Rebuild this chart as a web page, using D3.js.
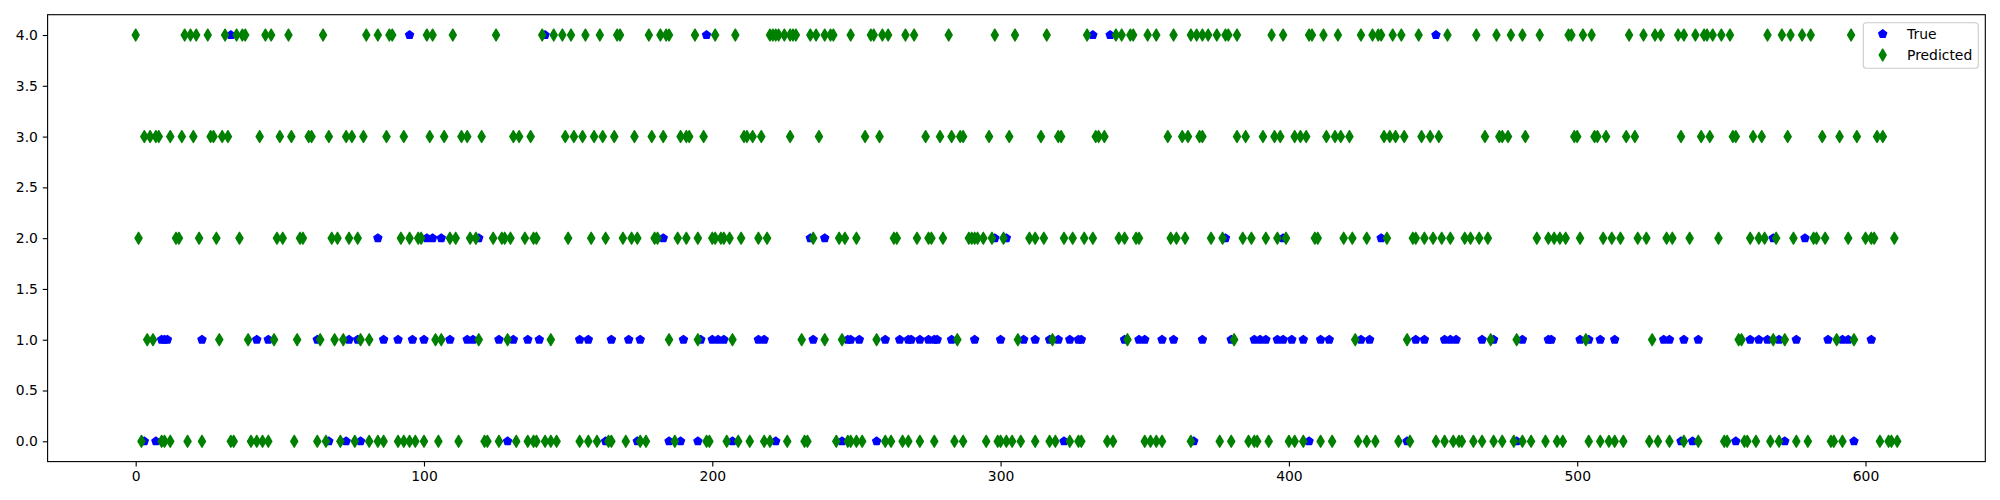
<!DOCTYPE html>
<html><head><meta charset="utf-8">
<script src="https://cdn.jsdelivr.net/npm/d3@7"></script>
<style>
html,body{margin:0;padding:0;background:#fff;}
svg{display:block;font-family:"DejaVu Sans",sans-serif;}
</style></head>
<body><svg id="c" width="2000" height="500"></svg>
<script>
// ---- data (sample index on x, class on y) ----
const xTicks = [0,100,200,300,400,500,600];
const yTicks = [0,0.5,1,1.5,2,2.5,3,3.5,4];
const yTickLabels = ["0.0","0.5","1.0","1.5","2.0","2.5","3.0","3.5","4.0"];
const seriesNames = ["True","Predicted"];
const nSamples = 612;

// Predicted class per sample, grouped by class
const pred0 = [2,9,10,12,18,23,33,34,40,42,44,46,55,63,66,71,76,81,84,86,91,93,95,97,100,105,112,121,122,126,132,136,138,139,142,144,146,154,157,160,164,165,170,175,177,187,198,199,205,209,213,218,220,226,232,233,243,247,248,250,252,260,262,266,268,272,277,284,287,295,299,300,302,304,307,312,317,319,324,327,328,337,339,350,352,354,356,366,376,380,386,388,389,393,400,402,405,411,415,424,427,430,438,442,451,454,457,459,460,464,467,471,474,478,481,484,489,493,495,504,508,511,513,516,525,528,532,537,542,551,552,558,559,562,567,570,576,580,588,589,592,605,608,609,611];
const pred1 = [4,6,29,39,48,56,64,69,72,78,81,104,106,119,129,144,185,195,207,231,239,245,257,285,306,318,344,381,423,441,470,479,503,526,556,557,568,572,590,596];
const pred2 = [1,14,15,22,28,36,49,51,57,58,68,70,74,77,92,95,98,99,109,111,116,118,124,127,128,130,135,138,139,150,158,163,169,172,174,180,181,188,191,195,200,201,203,204,206,210,216,219,235,244,246,250,263,264,271,275,276,280,289,290,291,292,294,297,301,310,312,315,322,325,329,332,341,343,347,348,359,361,364,373,377,384,387,392,396,399,409,410,419,422,427,434,443,444,447,450,453,456,461,463,466,469,486,490,492,494,496,501,509,512,515,521,524,531,533,539,549,560,563,565,569,575,582,583,586,594,600,602,603,610];
const pred3 = [3,5,7,8,12,16,20,26,27,30,32,43,50,54,60,61,67,73,75,79,87,93,102,107,113,115,120,131,133,137,149,152,155,159,162,166,173,179,183,189,191,192,197,211,212,214,217,227,237,253,258,274,279,283,286,287,296,303,314,320,321,333,334,336,358,363,365,369,370,382,385,391,395,397,402,404,406,413,416,418,421,433,435,437,440,446,449,452,468,473,474,476,482,499,500,506,507,510,517,520,536,543,546,554,555,561,564,573,585,591,597,604,606];
const pred4 = [0,17,19,21,25,31,35,37,38,45,47,53,65,80,84,88,89,101,103,110,125,141,145,148,151,156,161,167,168,178,182,184,185,194,201,208,220,221,222,223,225,227,228,229,234,236,239,241,242,248,255,256,259,261,267,270,282,298,305,316,330,340,342,345,346,351,354,360,366,368,370,372,375,378,379,382,394,398,407,408,412,417,425,429,431,432,436,439,445,455,465,472,477,481,487,497,498,502,505,518,523,527,529,535,537,541,544,545,547,550,553,566,571,574,578,581,595];

// True class where it differs from the prediction (visible blue markers)
const true0 = [3,7,67,73,78,129,163,174,185,189,195,207,222,245,257,322,367,407,441,479,536,540,555,572,596];
const true1 = [9,10,11,23,42,46,63,74,77,86,91,96,100,109,115,117,126,131,136,140,154,157,165,171,175,190,196,200,202,204,216,218,235,247,248,251,260,265,268,269,272,275,277,278,283,291,300,308,312,317,320,324,327,328,343,348,350,356,360,370,380,388,390,392,396,398,401,405,411,414,425,428,444,447,454,456,458,467,471,481,490,491,501,504,508,513,530,532,537,542,560,563,566,570,576,587,592,594,602];
const true2 = [84,101,103,106,119,183,234,239,298,302,378,398,432,568,579];
const true3 = [];
const true4 = [33,95,142,198,332,338,451];

const predByClass = [pred0,pred1,pred2,pred3,pred4];
const trueByClass = [true0,true1,true2,true3,true4];

// ---- drawing ----
const svg = d3.select("#c");
const L = 47.6, R = 1985.3, T = 14.7, B = 461.6;
const pad = (nSamples-1)*0.05;
const x = d3.scaleLinear().domain([-pad, nSamples-1+pad]).range([L, R]);
const y = d3.scaleLinear().domain([-0.2, 4.2]).range([B, T]);

const BLUE = "#0000ff", GREEN = "#008000";
const ms = 6*100/72; // marker size in px
function diamondPath(){
  const h = ms*Math.SQRT2/2, w = h*0.6;
  return `M0,${-h}L${w},0L0,${h}L${-w},0Z`;
}
function pentagonPath(){
  const r = ms/2; let p = "";
  for(let k=0;k<5;k++){const a=-Math.PI/2+k*2*Math.PI/5; p += (k?"L":"M")+(r*Math.cos(a)).toFixed(3)+","+(r*Math.sin(a)).toFixed(3);}
  return p+"Z";
}
const dPath = diamondPath(), pPath = pentagonPath();

const trueData = trueByClass.flatMap((arr,c)=>arr.map(i=>({i,c})));
const predData = predByClass.flatMap((arr,c)=>arr.map(i=>({i,c})));

const plot = svg.append("g");
plot.selectAll("path.t").data(trueData).join("path").attr("class","t")
  .attr("d", pPath).attr("transform", d=>`translate(${x(d.i)},${y(d.c)})`)
  .attr("fill", BLUE).attr("stroke", BLUE).attr("stroke-width", 1.39).attr("stroke-linejoin","round");
plot.selectAll("path.p").data(predData).join("path").attr("class","p")
  .attr("d", dPath).attr("transform", d=>`translate(${x(d.i)},${y(d.c)})`)
  .attr("fill", GREEN).attr("stroke", GREEN).attr("stroke-width", 1.39).attr("stroke-linejoin","round");

// axes
const fs = "13.9px";
const xAxis = svg.append("g").attr("transform", `translate(0,${B})`)
  .call(d3.axisBottom(x).tickValues(xTicks).tickFormat(d3.format("d")).tickSize(4.86).tickPadding(4.86));
const yAxis = svg.append("g").attr("transform", `translate(${L},0)`)
  .call(d3.axisLeft(y).tickValues(yTicks).tickFormat((d,i)=>yTickLabels[i]).tickSize(4.86).tickPadding(4.86));
[xAxis,yAxis].forEach(g=>{
  g.select(".domain").remove();
  g.selectAll("line").attr("stroke","#000").attr("stroke-width",1.11);
  g.selectAll("text").attr("fill","#000").style("font-size",fs).style("font-family","DejaVu Sans");
});
svg.append("rect").attr("x",L).attr("y",T).attr("width",R-L).attr("height",B-T)
  .attr("fill","none").attr("stroke","#000").attr("stroke-width",1.11);

// legend
const lg = svg.append("g");
lg.append("rect").attr("x",1863.3).attr("y",22.7).attr("width",115).attr("height",45.6)
  .attr("rx",3).attr("fill","#fff").attr("fill-opacity",0.8).attr("stroke","#cccccc").attr("stroke-width",1.1);
const legendItems = [{name:seriesNames[0], path:pPath, col:BLUE, cy:34},{name:seriesNames[1], path:dPath, col:GREEN, cy:55}];
legendItems.forEach(it=>{
  lg.append("path").attr("d",it.path).attr("transform",`translate(1882.7,${it.cy})`)
    .attr("fill",it.col).attr("stroke",it.col).attr("stroke-width",1.39).attr("stroke-linejoin","round");
  lg.append("text").attr("x",1907).attr("y",it.cy).attr("dy","0.35em").text(it.name)
    .style("font-size",fs).attr("fill","#000");
});
</script></body></html>
